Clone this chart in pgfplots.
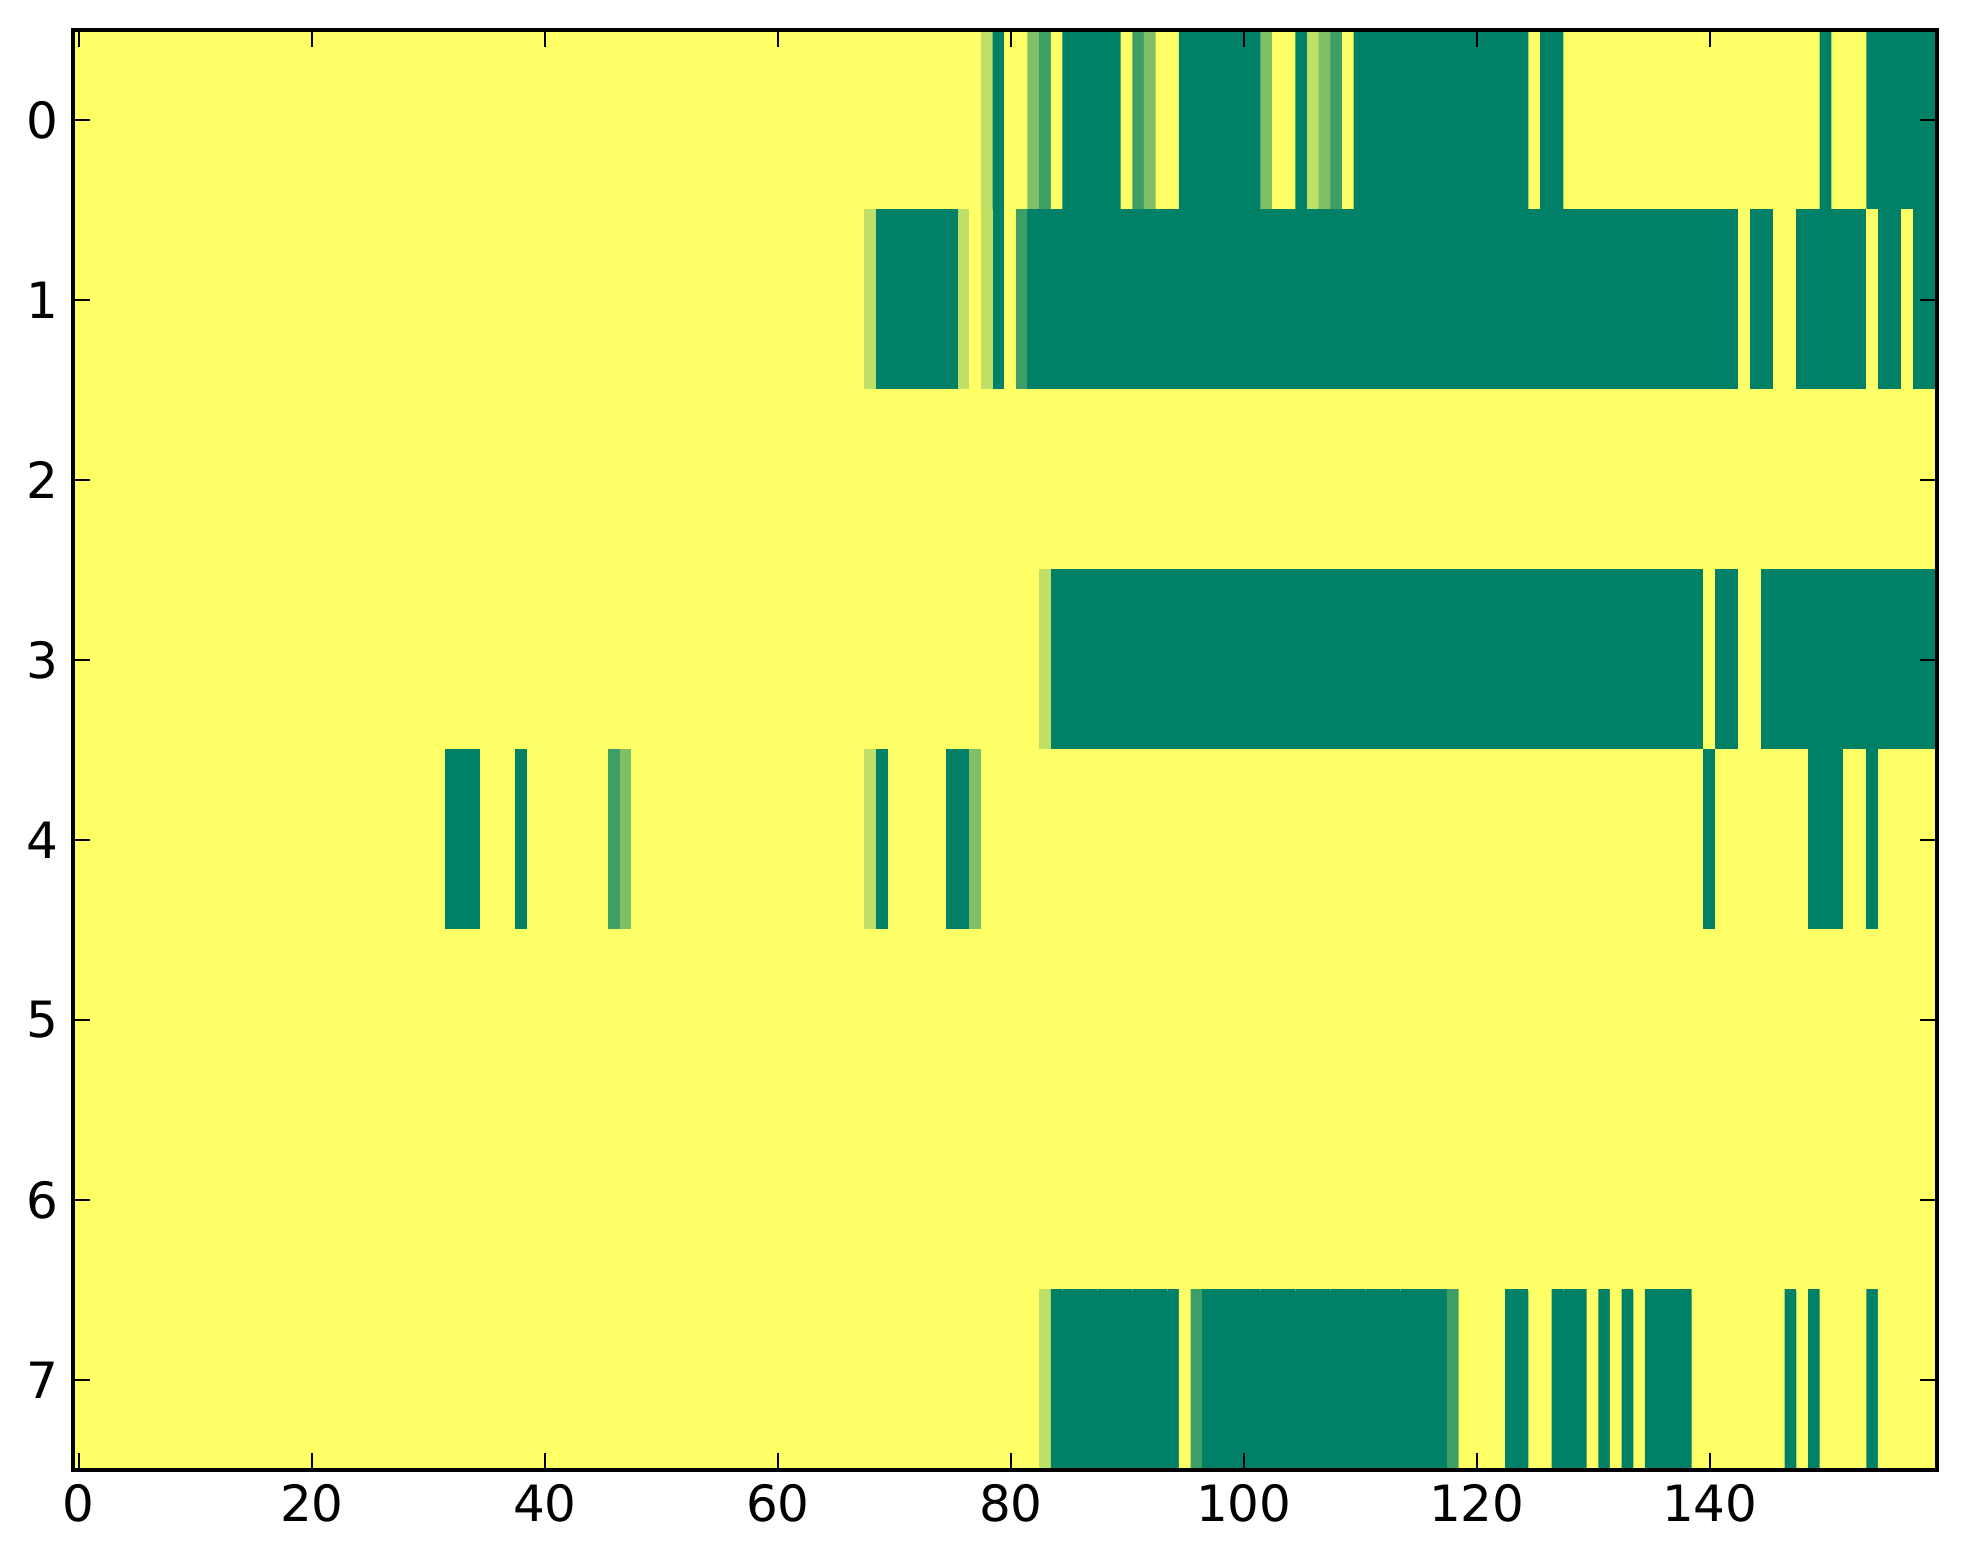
\documentclass[border=0pt]{standalone}
\usepackage{fontspec}
\setmainfont{DejaVu Sans}
\usepackage{pgfplots}
\pgfplotsset{compat=1.18}
\begin{document}
\begin{tikzpicture}
\useasboundingbox (-17.52pt,-22.56pt) rectangle (453.6pt,352.8pt);
\begin{axis}[
  at={(0,0)}, anchor=south west,
  scale only axis, width=447.36pt, height=345.6pt,
  xmin=-0.5, xmax=159.5, ymin=-0.5, ymax=7.5, y dir=reverse,
  enlargelimits=false,
  xtick={0,20,...,140}, ytick={0,...,7},
  tick align=inside, major tick length=4pt,
  tick style={black, line width=0.5pt},
  axis line style={line width=1pt},
  tick label style={font=\fontsize{12}{14}\selectfont},
  /pgf/number format/assume math mode=true,
  colormap={summerr}{rgb=(1,1,0.4) rgb=(0,0.5,0.4)},
  point meta min=0, point meta max=1,
  axis on top,
]
\addplot[matrix plot*, mesh/cols=160, point meta=explicit]
 table[row sep=\\, header=false, meta index=0,
   x expr={mod(\coordindex,160)}, y expr={floor(\coordindex/160)}] {
0\\0\\0\\0\\0\\0\\0\\0\\0\\0\\
0\\0\\0\\0\\0\\0\\0\\0\\0\\0\\
0\\0\\0\\0\\0\\0\\0\\0\\0\\0\\
0\\0\\0\\0\\0\\0\\0\\0\\0\\0\\
0\\0\\0\\0\\0\\0\\0\\0\\0\\0\\
0\\0\\0\\0\\0\\0\\0\\0\\0\\0\\
0\\0\\0\\0\\0\\0\\0\\0\\0\\0\\
0\\0\\0\\0\\0\\0\\0\\0\\0.25\\1\\
0\\0\\0.5\\0.75\\0\\1\\1\\1\\1\\1\\
0\\0.75\\0.5\\0\\0\\1\\1\\1\\1\\1\\
1\\1\\0.5\\0\\0\\1\\0.25\\0.5\\0.75\\0\\
1\\1\\1\\1\\1\\1\\1\\1\\1\\1\\
1\\1\\1\\1\\1\\0\\1\\1\\0\\0\\
0\\0\\0\\0\\0\\0\\0\\0\\0\\0\\
0\\0\\0\\0\\0\\0\\0\\0\\0\\0\\
1\\0\\0\\0\\1\\1\\1\\1\\1\\1\\
0\\0\\0\\0\\0\\0\\0\\0\\0\\0\\
0\\0\\0\\0\\0\\0\\0\\0\\0\\0\\
0\\0\\0\\0\\0\\0\\0\\0\\0\\0\\
0\\0\\0\\0\\0\\0\\0\\0\\0\\0\\
0\\0\\0\\0\\0\\0\\0\\0\\0\\0\\
0\\0\\0\\0\\0\\0\\0\\0\\0\\0\\
0\\0\\0\\0\\0\\0\\0\\0\\0.25\\1\\
1\\1\\1\\1\\1\\1\\0.25\\0\\0.25\\1\\
0\\0.75\\1\\1\\1\\1\\1\\1\\1\\1\\
1\\1\\1\\1\\1\\1\\1\\1\\1\\1\\
1\\1\\1\\1\\1\\1\\1\\1\\1\\1\\
1\\1\\1\\1\\1\\1\\1\\1\\1\\1\\
1\\1\\1\\1\\1\\1\\1\\1\\1\\1\\
1\\1\\1\\1\\1\\1\\1\\1\\1\\1\\
1\\1\\1\\0\\1\\1\\0\\0\\1\\1\\
1\\1\\1\\1\\0\\1\\1\\0\\1\\1\\
0\\0\\0\\0\\0\\0\\0\\0\\0\\0\\
0\\0\\0\\0\\0\\0\\0\\0\\0\\0\\
0\\0\\0\\0\\0\\0\\0\\0\\0\\0\\
0\\0\\0\\0\\0\\0\\0\\0\\0\\0\\
0\\0\\0\\0\\0\\0\\0\\0\\0\\0\\
0\\0\\0\\0\\0\\0\\0\\0\\0\\0\\
0\\0\\0\\0\\0\\0\\0\\0\\0\\0\\
0\\0\\0\\0\\0\\0\\0\\0\\0\\0\\
0\\0\\0\\0\\0\\0\\0\\0\\0\\0\\
0\\0\\0\\0\\0\\0\\0\\0\\0\\0\\
0\\0\\0\\0\\0\\0\\0\\0\\0\\0\\
0\\0\\0\\0\\0\\0\\0\\0\\0\\0\\
0\\0\\0\\0\\0\\0\\0\\0\\0\\0\\
0\\0\\0\\0\\0\\0\\0\\0\\0\\0\\
0\\0\\0\\0\\0\\0\\0\\0\\0\\0\\
0\\0\\0\\0\\0\\0\\0\\0\\0\\0\\
0\\0\\0\\0\\0\\0\\0\\0\\0\\0\\
0\\0\\0\\0\\0\\0\\0\\0\\0\\0\\
0\\0\\0\\0\\0\\0\\0\\0\\0\\0\\
0\\0\\0\\0\\0\\0\\0\\0\\0\\0\\
0\\0\\0\\0\\0\\0\\0\\0\\0\\0\\
0\\0\\0\\0\\0\\0\\0\\0\\0\\0\\
0\\0\\0\\0\\0\\0\\0\\0\\0\\0\\
0\\0\\0\\0\\0\\0\\0\\0\\0\\0\\
0\\0\\0\\0.25\\1\\1\\1\\1\\1\\1\\
1\\1\\1\\1\\1\\1\\1\\1\\1\\1\\
1\\1\\1\\1\\1\\1\\1\\1\\1\\1\\
1\\1\\1\\1\\1\\1\\1\\1\\1\\1\\
1\\1\\1\\1\\1\\1\\1\\1\\1\\1\\
1\\1\\1\\1\\1\\1\\1\\1\\1\\1\\
0\\1\\1\\0\\0\\1\\1\\1\\1\\1\\
1\\1\\1\\1\\1\\1\\1\\1\\1\\1\\
0\\0\\0\\0\\0\\0\\0\\0\\0\\0\\
0\\0\\0\\0\\0\\0\\0\\0\\0\\0\\
0\\0\\0\\0\\0\\0\\0\\0\\0\\0\\
0\\0\\1\\1\\1\\0\\0\\0\\1\\0\\
0\\0\\0\\0\\0\\0\\0.75\\0.5\\0\\0\\
0\\0\\0\\0\\0\\0\\0\\0\\0\\0\\
0\\0\\0\\0\\0\\0\\0\\0\\0.25\\1\\
0\\0\\0\\0\\0\\1\\1\\0.5\\0\\0\\
0\\0\\0\\0\\0\\0\\0\\0\\0\\0\\
0\\0\\0\\0\\0\\0\\0\\0\\0\\0\\
0\\0\\0\\0\\0\\0\\0\\0\\0\\0\\
0\\0\\0\\0\\0\\0\\0\\0\\0\\0\\
0\\0\\0\\0\\0\\0\\0\\0\\0\\0\\
0\\0\\0\\0\\0\\0\\0\\0\\0\\0\\
1\\0\\0\\0\\0\\0\\0\\0\\0\\1\\
1\\1\\0\\0\\1\\0\\0\\0\\0\\0\\
0\\0\\0\\0\\0\\0\\0\\0\\0\\0\\
0\\0\\0\\0\\0\\0\\0\\0\\0\\0\\
0\\0\\0\\0\\0\\0\\0\\0\\0\\0\\
0\\0\\0\\0\\0\\0\\0\\0\\0\\0\\
0\\0\\0\\0\\0\\0\\0\\0\\0\\0\\
0\\0\\0\\0\\0\\0\\0\\0\\0\\0\\
0\\0\\0\\0\\0\\0\\0\\0\\0\\0\\
0\\0\\0\\0\\0\\0\\0\\0\\0\\0\\
0\\0\\0\\0\\0\\0\\0\\0\\0\\0\\
0\\0\\0\\0\\0\\0\\0\\0\\0\\0\\
0\\0\\0\\0\\0\\0\\0\\0\\0\\0\\
0\\0\\0\\0\\0\\0\\0\\0\\0\\0\\
0\\0\\0\\0\\0\\0\\0\\0\\0\\0\\
0\\0\\0\\0\\0\\0\\0\\0\\0\\0\\
0\\0\\0\\0\\0\\0\\0\\0\\0\\0\\
0\\0\\0\\0\\0\\0\\0\\0\\0\\0\\
0\\0\\0\\0\\0\\0\\0\\0\\0\\0\\
0\\0\\0\\0\\0\\0\\0\\0\\0\\0\\
0\\0\\0\\0\\0\\0\\0\\0\\0\\0\\
0\\0\\0\\0\\0\\0\\0\\0\\0\\0\\
0\\0\\0\\0\\0\\0\\0\\0\\0\\0\\
0\\0\\0\\0\\0\\0\\0\\0\\0\\0\\
0\\0\\0\\0\\0\\0\\0\\0\\0\\0\\
0\\0\\0\\0\\0\\0\\0\\0\\0\\0\\
0\\0\\0\\0\\0\\0\\0\\0\\0\\0\\
0\\0\\0\\0\\0\\0\\0\\0\\0\\0\\
0\\0\\0\\0\\0\\0\\0\\0\\0\\0\\
0\\0\\0\\0\\0\\0\\0\\0\\0\\0\\
0\\0\\0\\0\\0\\0\\0\\0\\0\\0\\
0\\0\\0\\0\\0\\0\\0\\0\\0\\0\\
0\\0\\0\\0\\0\\0\\0\\0\\0\\0\\
0\\0\\0\\0\\0\\0\\0\\0\\0\\0\\
0\\0\\0\\0\\0\\0\\0\\0\\0\\0\\
0\\0\\0\\0\\0\\0\\0\\0\\0\\0\\
0\\0\\0\\0\\0\\0\\0\\0\\0\\0\\
0\\0\\0\\0\\0\\0\\0\\0\\0\\0\\
0\\0\\0\\0\\0\\0\\0\\0\\0\\0\\
0\\0\\0\\0\\0\\0\\0\\0\\0\\0\\
0\\0\\0\\0\\0\\0\\0\\0\\0\\0\\
0\\0\\0\\0\\0\\0\\0\\0\\0\\0\\
0\\0\\0\\0.25\\1\\1\\1\\1\\1\\1\\
1\\1\\1\\1\\1\\0\\0.75\\1\\1\\1\\
1\\1\\1\\1\\1\\1\\1\\1\\1\\1\\
1\\1\\1\\1\\1\\1\\1\\1\\0.75\\0\\
0\\0\\0\\1\\1\\0\\0\\1\\1\\1\\
0\\1\\0\\1\\0\\1\\1\\1\\1\\0\\
0\\0\\0\\0\\0\\0\\0\\1\\0\\1\\
0\\0\\0\\0\\1\\0\\0\\0\\0\\0\\
};
\end{axis}
\end{tikzpicture}
\end{document}
